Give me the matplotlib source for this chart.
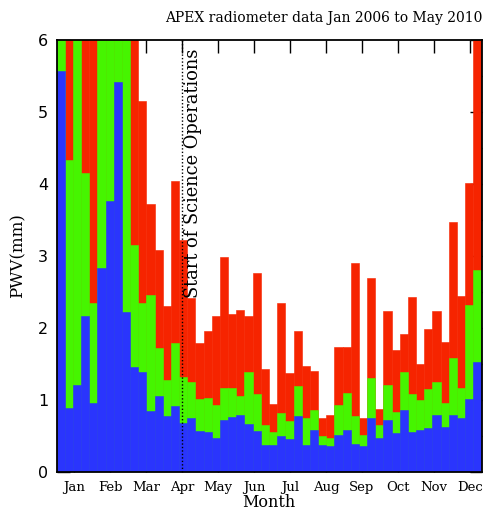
import matplotlib
matplotlib.use("Agg")
import matplotlib.pyplot as plt
import numpy as np
from matplotlib.ticker import MultipleLocator

# Weekly PWV statistics (mm), 52 weekly bins across the year
# lower (blue), middle (green) and upper (red) levels
blue = [5.58, 0.88, 1.21, 2.16, 0.96, 2.83, 3.77, 5.42, 2.22, 1.45,
        1.38, 0.84, 1.05, 0.77, 0.91, 0.67, 0.74, 0.57, 0.55, 0.47,
        0.72, 0.76, 0.79, 0.66, 0.57, 0.37, 0.37, 0.50, 0.45, 0.77,
        0.37, 0.58, 0.37, 0.35, 0.51, 0.58, 0.38, 0.35, 0.75, 0.47,
        0.71, 0.53, 0.85, 0.55, 0.58, 0.61, 0.79, 0.62, 0.78, 0.75,
        1.01, 1.52]
green = [6.3, 4.33, 6.3, 4.16, 2.35, 6.3, 6.3, 6.3, 6.3, 3.16,
         2.35, 2.46, 1.72, 1.27, 1.79, 1.31, 1.24, 1.01, 1.02, 0.92,
         1.16, 1.16, 1.05, 1.38, 1.08, 0.65, 0.55, 0.82, 0.70, 1.19,
         0.74, 0.85, 0.50, 0.47, 0.93, 1.09, 0.77, 0.51, 1.30, 0.65,
         1.20, 0.83, 1.38, 1.08, 1.00, 1.15, 1.25, 0.95, 1.58, 1.16,
         2.32, 2.81]
red = [7.0, 7.0, 7.0, 7.0, 7.0, 7.0, 7.0, 7.0, 7.0, 7.0,
       5.16, 3.73, 3.08, 2.31, 4.04, 3.22, 2.41, 1.79, 1.96, 2.17,
       2.98, 2.19, 2.25, 2.16, 2.76, 1.42, 0.94, 2.35, 1.37, 1.95,
       1.47, 1.40, 0.74, 0.79, 1.74, 1.73, 2.90, 0.74, 2.70, 0.87,
       2.23, 1.69, 1.91, 2.43, 1.49, 1.98, 2.24, 1.80, 3.47, 2.44,
       4.01, 7.0]
months = ["Jan", "Feb", "Mar", "Apr", "May", "Jun",
          "Jul", "Aug", "Sep", "Oct", "Nov", "Dec"]
science_start_month = "Apr"

weeks = np.arange(len(blue)) + 0.5
month_pos = (15.25 + 30.8 * np.arange(12)) / 7.0

fig = plt.figure(figsize=(4.86, 5.11), dpi=100)
ax = fig.add_axes([56.5 / 486, 39.5 / 511, 425 / 486, 431 / 511])

c_red, c_green, c_blue = "#f62400", "#46f500", "#2a35fd"
for vals, col in ((red, c_red), (green, c_green), (blue, c_blue)):
    ax.bar(weeks, vals, width=1.0, color=col, edgecolor=col,
           linewidth=0.4, zorder=2)

apr = month_pos[months.index(science_start_month)]
ax.axvline(apr, color="black", linestyle=(0, (1, 1.5)), linewidth=1.0, zorder=3)
ax.text(apr + 0.25, 2.42, "Start of Science Operations", rotation=90,
        ha="left", va="bottom", fontsize=12.9, family="DejaVu Serif", zorder=4)

ax.set_xlim(0, 52)
ax.set_ylim(0, 6)
ax.set_xticks(month_pos)
ax.set_xticklabels(months, family="DejaVu Serif", fontsize=9.5)
ax.yaxis.set_major_locator(MultipleLocator(1))
ax.yaxis.set_minor_locator(MultipleLocator(0.5))
for lab in ax.get_yticklabels():
    lab.set_family("DejaVu Sans")
    lab.set_fontsize(11.5)

ax.tick_params(axis="both", which="major", direction="in", length=9,
               width=1.0, top=True, right=True)
ax.tick_params(axis="y", which="minor", direction="in", length=5,
               width=1.0, left=True, right=True)
ax.tick_params(axis="x", which="major", pad=7)
ax.tick_params(axis="y", which="major", pad=6)
for s in ax.spines.values():
    s.set_linewidth(1.3)
    s.set_zorder(5)

ax.set_xlabel("Month", family="DejaVu Serif", fontsize=11.5, labelpad=0)
ax.set_ylabel("PWV(mm)", family="DejaVu Serif", fontsize=12, labelpad=8)
fig.text(482 / 486, 1 - 18 / 511, "APEX radiometer data Jan 2006 to May 2010",
         ha="right", va="center", family="DejaVu Serif", fontsize=10)

fig.savefig("out.png", dpi=100)
